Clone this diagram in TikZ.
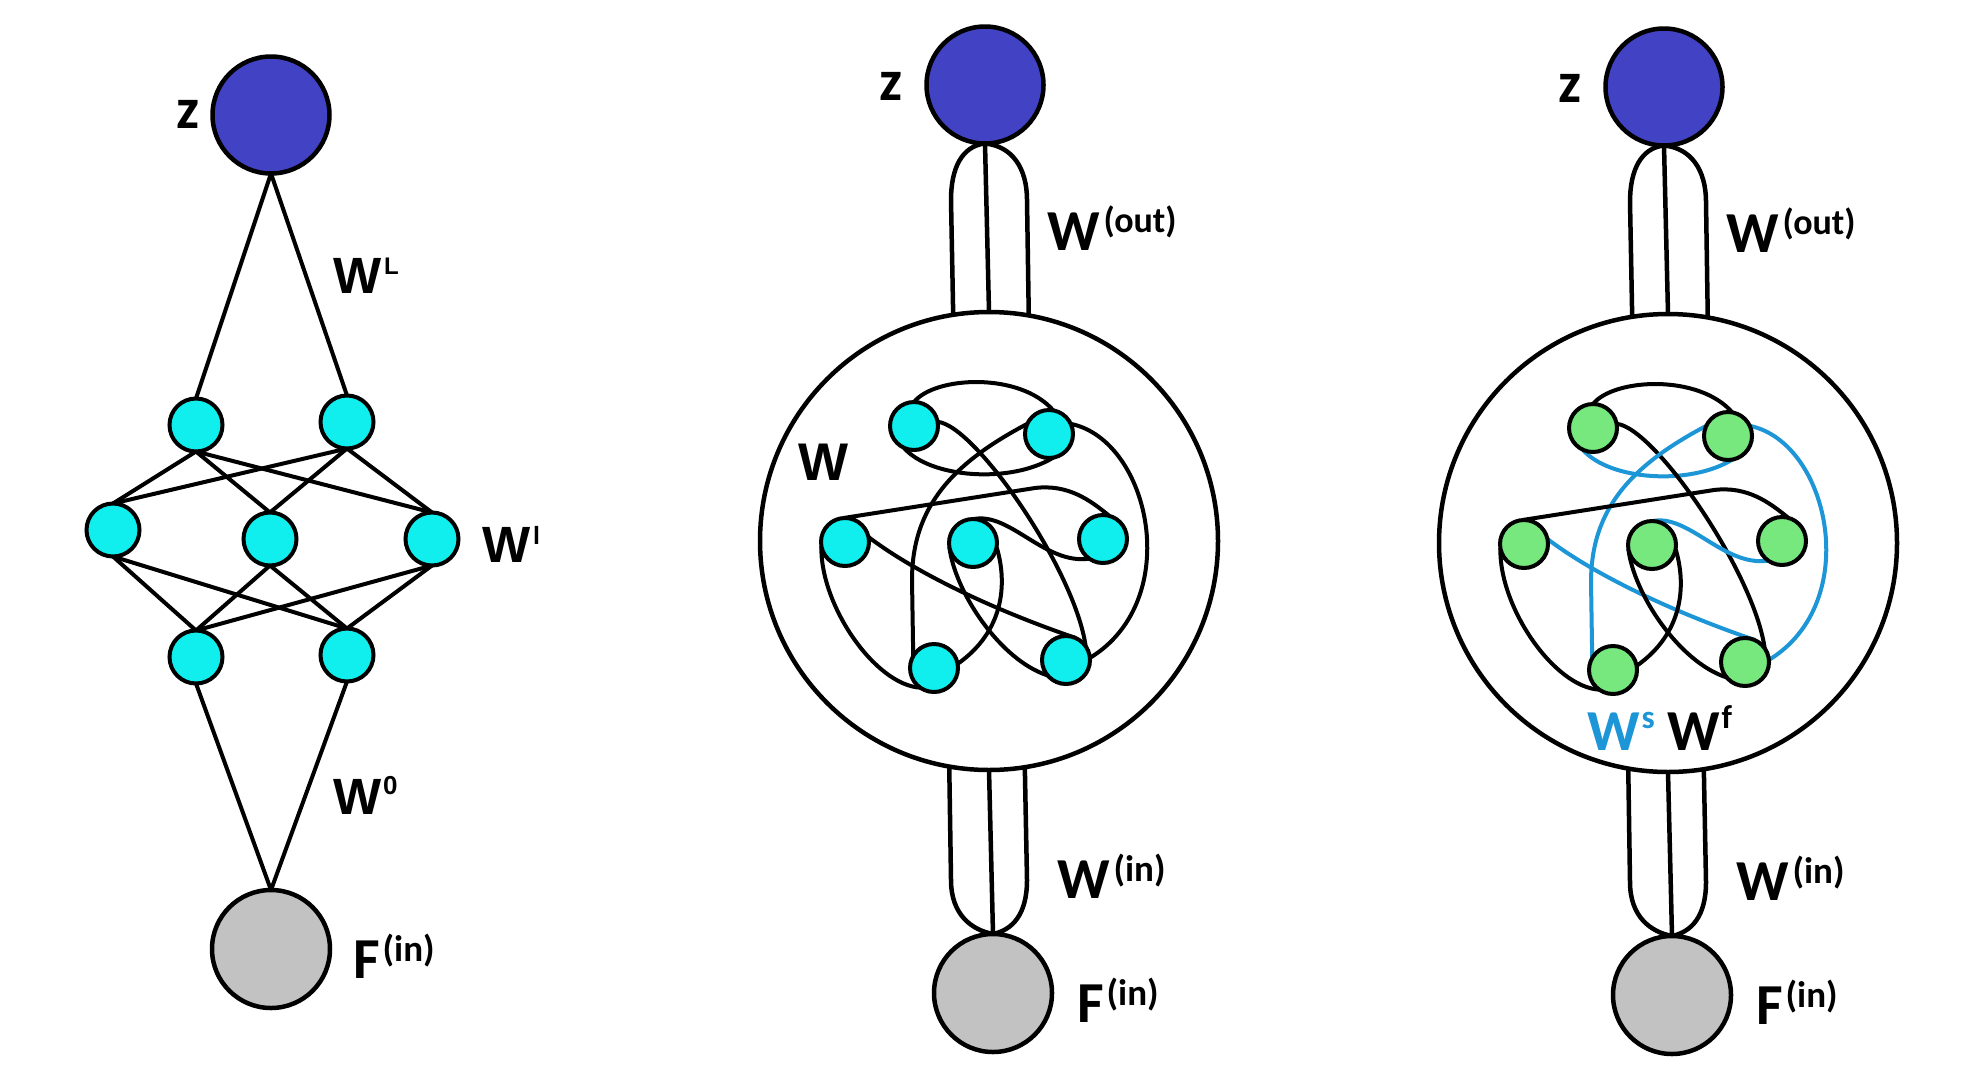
\documentclass[tikz,border=0pt]{standalone}
\usepackage{fontspec}
\setmainfont{Carlito}
\newfontfamily\afont{Liberation Sans}
\usetikzlibrary{backgrounds}
\definecolor{zblue}{RGB}{66,66,196}
\definecolor{ncyan}{RGB}{16,238,238}
\definecolor{ngreen}{RGB}{118,232,126}
\definecolor{ngray}{RGB}{194,194,194}
\definecolor{wsblue}{RGB}{28,150,214}
\tikzset{
  zn/.style={circle,draw=black,line width=4.5pt,fill=zblue,minimum size=117pt,inner sep=0pt,outer sep=0pt},
  gn/.style={circle,draw=black,line width=4.5pt,fill=ngray,minimum size=118pt,inner sep=0pt,outer sep=0pt},
  hn/.style={circle,draw=black,line width=4pt,fill=ncyan,minimum size=53pt,inner sep=0pt,outer sep=0pt},
  inn/.style={circle,draw=black,line width=4pt,minimum size=48pt,inner sep=0pt,outer sep=0pt},
  bigc/.style={circle,draw=black,line width=4.5pt,minimum size=458pt,inner sep=0pt,outer sep=0pt},
  ledge/.style={draw=black,line width=4pt},
  tube/.style={draw=black,line width=4.5pt},
  fedge/.style={draw=black,line width=4pt},
  lbl/.style={anchor=base west,inner sep=0pt,outer sep=0pt,text=black},
  zlbl/.style={anchor=base,inner sep=0pt,outer sep=0pt,text=black,font=\fontsize{58}{58}\selectfont\bfseries},
}
\newcommand\wpanel[4]{%
\begin{scope}[shift={#3},sedge/.style={#4}]
  \node[zn] (#1z) at (985,85) {};
  \node[bigc] (#1big) at (989,541) {};
  \node[gn] (#1g) at (993,993) {};
  \node[inn,fill=#2] (#1n1) at (914,426) {};
  \node[inn,fill=#2] (#1n2) at (1049,434) {};
  \node[inn,fill=#2] (#1n3) at (845,542) {};
  \node[inn,fill=#2] (#1n4) at (973,543) {};
  \node[inn,fill=#2] (#1n5) at (1103,539) {};
  \node[inn,fill=#2] (#1n6) at (934,668) {};
  \node[inn,fill=#2] (#1n7) at (1066,660) {};
  \node[zlbl] (#1zl) at (891,100) {z};
  \node[lbl] (#1wout) at (1047,250) {\bfseries\fontsize{58}{58}\selectfont W\hspace{4pt}\raisebox{18pt}{\fontsize{36}{36}\selectfont (out)}};
  \node[lbl] (#1win) at (1057,898) {\bfseries\fontsize{58}{58}\selectfont W\hspace{4pt}\raisebox{17pt}{\fontsize{37}{37}\selectfont (in)}};
  \node[lbl] (#1fin) at (1077,1022) {\bfseries\fontsize{58}{58}\selectfont F\hspace{3pt}\raisebox{17pt}{\fontsize{37}{37}\selectfont (in)}};
  \begin{pgfonlayer}{background}
    % output tube
    \draw[tube] (#1z.south) -- (#1big.north);
    \draw[tube] (#1big.99.5) -- (951,200) .. controls (951,168) and (962,146) .. (#1z.south);
    \draw[tube] (#1big.80.5) -- (1027,200) .. controls (1027,168) and (1012,146) .. (#1z.south);
    % input tube
    \draw[tube] (#1big.south) -- (#1g.north);
    \draw[tube] (#1big.260.5) -- (951,880) .. controls (951,915) and (972,930) .. (#1g.north);
    \draw[tube] (#1big.279.5) -- (1027,880) .. controls (1027,915) and (1012,930) .. (#1g.north);
    % recurrent connections
    \draw[fedge] (#1n1.90) .. controls (935,376) and (1020,372) .. (#1n2.80);
    \draw[fedge,sedge] (#1n1.245) .. controls (930,478) and (1010,484) .. (#1n2.280);
    \draw[fedge,sedge] (#1n2.25) .. controls (1150,440) and (1185,600) .. (#1n7.5);
    \draw[fedge] (#1n1.10) .. controls (975,425) and (1075,570) .. (#1n7.35);
    \draw[fedge,sedge] (#1n2.155) .. controls (955,462) and (912,505) .. (912,580) -- (#1n6.150);
    \draw[fedge] (#1n3.95) -- (1035,488) .. controls (1068,484) and (1090,500) .. (#1n5.75);
    \draw[fedge,sedge] (#1n3.12) .. controls (920,576) and (1000,612) .. (#1n7.68);
    \draw[fedge] (#1n3.190) .. controls (820,605) and (875,685) .. (#1n6.235);
    \draw[fedge,sedge] (#1n4.88) .. controls (1010,512) and (1045,565) .. (#1n5.235);
    \draw[fedge] (#1n4.350) .. controls (1008,585) and (1003,632) .. (#1n6.10);
    \draw[fedge] (#1n4.190) .. controls (955,592) and (1000,660) .. (#1n7.220);
  \end{pgfonlayer}
\end{scope}}

\begin{document}
\begin{tikzpicture}[x=1pt,y=-1pt]
\useasboundingbox (0,0) rectangle (1970,1074);
\begin{pgfonlayer}{background}
\fill[white] (0,0) rectangle (1970,1074);
\end{pgfonlayer}
% ---------- left panel: feed-forward network ----------
\node[zn] (lz) at (271,115) {};
\node[hn] (a1) at (196,425) {};
\node[hn] (a2) at (347,422) {};
\node[hn] (b1) at (113,530) {};
\node[hn] (b2) at (270,539) {};
\node[hn] (b3) at (432,539) {};
\node[hn] (c1) at (196,657) {};
\node[hn] (c2) at (347,655) {};
\node[gn] (lg) at (271,949) {};
\begin{pgfonlayer}{background}
\draw[ledge] (lz.south) -- (a1.north);
\draw[ledge] (lz.south) -- (a2.north);
\foreach \u in {a1,a2}{\foreach \v in {b1,b2,b3}{\draw[ledge] (\u.south) -- (\v.north);}}
\foreach \u in {b1,b2,b3}{\foreach \v in {c1,c2}{\draw[ledge] (\u.south) -- (\v.north);}}
\draw[ledge] (c1.south) -- (lg.north);
\draw[ledge] (c2.south) -- (lg.north);
\end{pgfonlayer}
\node[zlbl] (lzl) at (188,128) {z};
\node[lbl] (lWL) at (333,293) {\afont\bfseries\fontsize{51}{51}\selectfont W\hspace{3pt}\raisebox{19pt}{\fontsize{24}{24}\selectfont L}};
\node[lbl] (lWl) at (482,562) {\afont\bfseries\fontsize{51}{51}\selectfont W\hspace{3pt}\raisebox{18pt}{\fontsize{25}{25}\selectfont l}};
\node[lbl] (lW0) at (333,814) {\afont\bfseries\fontsize{51}{51}\selectfont W\hspace{2pt}\raisebox{20pt}{\fontsize{26}{26}\selectfont 0}};
\node[lbl] (lF) at (353,978) {\bfseries\fontsize{58}{58}\selectfont F\hspace{3pt}\raisebox{17pt}{\fontsize{37}{37}\selectfont (in)}};
% ---------- middle panel ----------
\wpanel{m}{ncyan}{(0,0)}{}
\node[lbl] (mW) at (798,480) {\afont\bfseries\fontsize{53}{53}\selectfont W};
% ---------- right panel ----------
\wpanel{r}{ngreen}{(679,2)}{draw=wsblue}
\node[lbl,text=wsblue] (rWs) at (1587,750) {\bfseries\fontsize{58}{58}\selectfont W\hspace{2pt}\raisebox{22pt}{\fontsize{33}{33}\selectfont s}};
\node[lbl] (rWf) at (1667,750) {\bfseries\fontsize{58}{58}\selectfont W\hspace{2pt}\raisebox{22pt}{\fontsize{33}{33}\selectfont f}};
\end{tikzpicture}
\end{document}
